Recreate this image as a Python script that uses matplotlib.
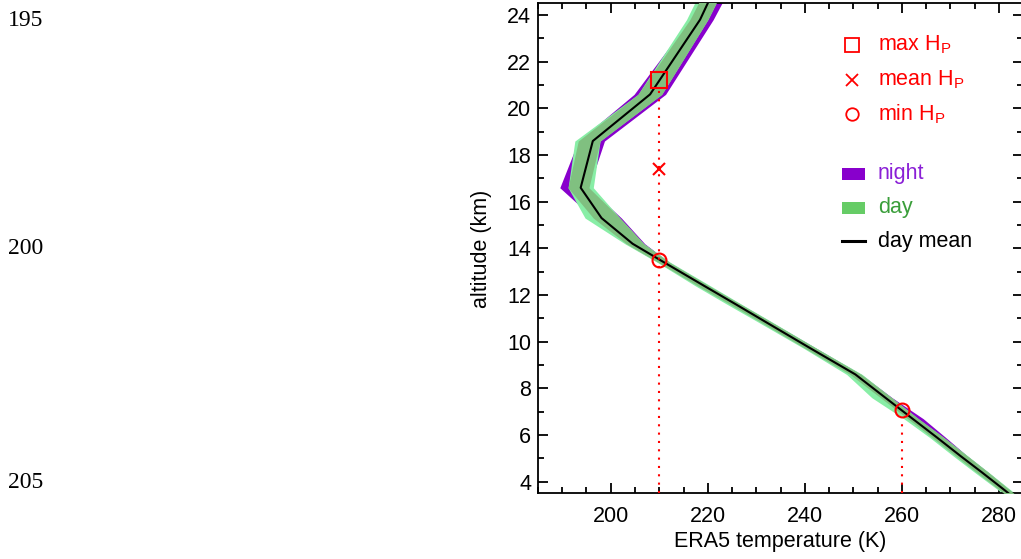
import numpy as np
import matplotlib
matplotlib.use("Agg")
import matplotlib.pyplot as plt
from matplotlib.patches import Rectangle
from matplotlib.lines import Line2D

plt.rcParams['font.family'] = ['Liberation Sans', 'DejaVu Sans']
plt.rcParams['mathtext.fontset'] = 'custom'
plt.rcParams['mathtext.rm'] = 'Liberation Sans'
plt.rcParams['mathtext.it'] = 'Liberation Sans:italic'

# ---- data ----
alt = [26.5, 23.8, 20.6, 18.6, 16.6, 15.3, 14.2, 13.4, 12.4, 11.6, 10.9,
       9.7, 8.6, 7.6, 6.7, 5.9, 5.1, 4.4, 3.7, 3.0]
t_mean = [224.5, 218.4, 208.1, 196.3, 193.8, 198.1, 204.5, 211.0, 219.2, 225.8,
          231.5, 241.3, 250.4, 256.6, 262.2, 267.2, 272.1, 276.5, 280.8, 285.0]
day_lo = [222.0, 215.6, 205.6, 192.6, 191.2, 194.7, 202.9, 209.6, 217.4, 224.0,
          229.9, 239.9, 248.6, 253.8, 260.4, 265.7, 270.6, 275.0, 279.5, 283.8]
day_hi = [226.5, 220.0, 210.5, 197.8, 196.4, 201.9, 206.8, 212.3, 220.5, 227.0,
          232.8, 242.6, 251.8, 257.9, 263.4, 268.6, 273.6, 277.9, 282.1, 286.3]
night_lo = [223.0, 216.3, 204.8, 193.3, 189.5, 196.4, 203.2, 209.8, 217.9, 224.6,
            230.4, 240.2, 249.3, 255.6, 261.2, 266.2, 271.1, 275.4, 279.8, 284.1]
night_hi = [228.0, 221.1, 211.3, 198.7, 195.5, 202.2, 207.0, 212.1, 220.2, 226.8,
            232.6, 242.5, 251.6, 258.0, 264.4, 269.0, 273.5, 277.8, 281.9, 286.1]

hp_temp = [210.0, 210.0, 210.0]          # max, mean, min H_P (upper tropopause)
hp_alt = [21.2, 17.4, 13.5]
hp2_temp = 260.0                          # min H_P (lower)
hp2_alt = 7.07

line_numbers = ['195', '200', '205']

legend_labels = ['max H$_\\mathregular{P}$', 'mean H$_\\mathregular{P}$',
                 'min H$_\\mathregular{P}$', 'night', 'day', 'day mean']

# ---- style ----
PURPLE = '#8800CC'
MINT = '#88EEA6'
OVERLAP = '#80C080'
DAYLEG = '#66CC66'
RED = '#FF0000'
FS = 15.5

fig = plt.figure(figsize=(10.21, 5.59), dpi=100)
ax = fig.add_axes([0.5269, 0.1173, 0.4753, 0.8767])

a = np.array(alt)
dl, dh = np.array(day_lo), np.array(day_hi)
nl, nh = np.array(night_lo), np.array(night_hi)
ov_lo = np.maximum(dl, nl)
ov_hi = np.minimum(dh, nh)

ax.fill_betweenx(a, nl, nh, color=PURPLE, lw=0, zorder=1)
ax.fill_betweenx(a, dl, dh, color=MINT, lw=0, zorder=2)
ax.fill_betweenx(a, ov_lo, ov_hi, where=ov_hi > ov_lo, color=OVERLAP,
                 lw=0, zorder=3, interpolate=True)
ax.plot(t_mean, alt, color='black', lw=1.5, zorder=4)

ax.set_xlim(185, 285)
ax.set_ylim(3.5, 24.5)

# dotted guides
ax.plot([hp_temp[0], hp_temp[0]], [3.5, hp_alt[0] - 0.35], color=RED, ls=(0, (1, 3)),
        lw=1.5, zorder=5)
ax.plot([hp2_temp, hp2_temp], [3.5, hp2_alt - 0.3], color=RED, ls=(0, (1, 3)),
        lw=1.5, zorder=5)

ax.plot(hp_temp[0], hp_alt[0], marker='s', ms=11, mfc='none', mec=RED, mew=1.5,
        ls='none', zorder=6)
ax.plot(hp_temp[1], hp_alt[1], marker='x', ms=9, mec=RED, mew=1.5, ls='none', zorder=6)
ax.plot(hp_temp[2], hp_alt[2], marker='o', ms=10, mfc='none', mec=RED, mew=1.5,
        ls='none', zorder=6)
ax.plot(hp2_temp, hp2_alt, marker='o', ms=10, mfc='none', mec=RED, mew=1.5,
        ls='none', zorder=6)

# axes styling
ax.set_xticks(range(200, 281, 20))
ax.set_xticks(range(185, 286, 5), minor=True)
ax.set_yticks(range(4, 25, 2))
ax.set_yticks(range(4, 25, 1), minor=True)
ax.tick_params(which='both', direction='in', top=True, right=True, width=1.3,
               labelsize=FS, color='black')
ax.tick_params(which='major', length=7.5)
ax.tick_params(which='minor', length=4)
ax.tick_params(axis='x', which='major', pad=9)
ax.tick_params(axis='y', which='major', pad=5)
for s in ax.spines.values():
    s.set_linewidth(1.3)
ax.set_xlabel('ERA5 temperature (K)', fontsize=FS, labelpad=3)
ax.set_ylabel('altitude (km)', fontsize=FS, labelpad=11)

# legend (manual)
mx, tx = 0.647, 0.7006
rows = [0.9151, 0.8437, 0.7743, 0.6519, 0.5825, 0.515]
mk = [('s', 9.5), ('x', 8), ('o', 9)]
for i in range(3):
    ax.add_line(Line2D([mx], [rows[i]], marker=mk[i][0], ms=mk[i][1], mfc='none',
                       mec=RED, mew=1.3, ls='none', transform=ax.transAxes))
    ax.text(tx, rows[i], legend_labels[i], color=RED, fontsize=FS,
            transform=ax.transAxes, va='center', ha='left')
ph = 0.0245
ax.add_patch(Rectangle((0.6264, rows[3] - ph / 2), 0.0474, ph, color=PURPLE,
                       transform=ax.transAxes, lw=0))
ax.text(tx, rows[3], legend_labels[3], color='#8A1FD6', fontsize=FS,
        transform=ax.transAxes, va='center', ha='left')
ax.add_patch(Rectangle((0.6264, rows[4] - ph / 2), 0.0474, ph, color=DAYLEG,
                       transform=ax.transAxes, lw=0))
ax.text(tx, rows[4], legend_labels[4], color='#3A9E3A', fontsize=FS,
        transform=ax.transAxes, va='center', ha='left')
ax.add_line(Line2D([0.6264, 0.6738], [rows[5], rows[5]], color='black', lw=2.2,
                   transform=ax.transAxes))
ax.text(tx, rows[5], legend_labels[5], color='black', fontsize=FS,
        transform=ax.transAxes, va='center', ha='left')

# line numbers from the page
for lbl, ypx in zip(line_numbers, [21, 249, 482]):
    fig.text(8 / 1021, 1 - ypx / 559, lbl, family='Liberation Serif', fontsize=17,
             va='center', ha='left')

fig.savefig('out.png', dpi=100)
